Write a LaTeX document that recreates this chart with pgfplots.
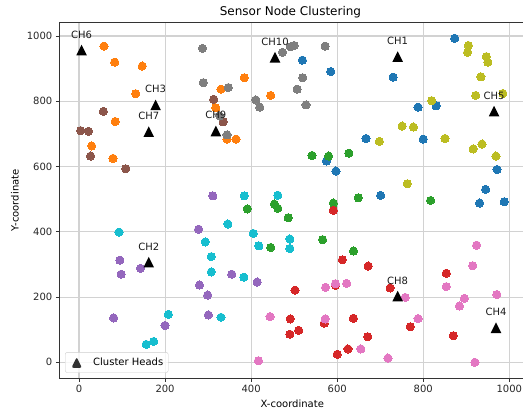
\documentclass[border=0pt]{standalone}
\usepackage{fontspec}
\setmainfont{DejaVu Sans}
\usepackage{pgfplots}
\pgfplotsset{compat=1.18}
\definecolor{cB}{HTML}{1F77B4}
\definecolor{cO}{HTML}{FF7F0E}
\definecolor{cG}{HTML}{2CA02C}
\definecolor{cR}{HTML}{D62728}
\definecolor{cP}{HTML}{9467BD}
\definecolor{cBr}{HTML}{8C564B}
\definecolor{cPk}{HTML}{E377C2}
\definecolor{cGy}{HTML}{7F7F7F}
\definecolor{cOl}{HTML}{BCBD22}
\definecolor{cC}{HTML}{17BECF}
\definecolor{gridc}{HTML}{D2D2D2}
\pgfdeclareplotmark{mtri}{%
  \pgfpathmoveto{\pgfqpoint{0pt}{\pgfplotmarksize}}%
  \pgfpathlineto{\pgfqpoint{-\pgfplotmarksize}{-\pgfplotmarksize}}%
  \pgfpathlineto{\pgfqpoint{\pgfplotmarksize}{-\pgfplotmarksize}}%
  \pgfpathclose\pgfusepathqfill}
\pgfplotsset{dot/.style={only marks, mark=*, mark size=4.1bp, color=#1, mark options={fill=#1, draw=#1, line width=0pt}, forget plot},
  chleg/.style={legend image code/.code={\path[draw=none,fill=none] (0bp,0bp) -- (23bp,0bp); \fill[black,draw=none] (8.5bp,0bp) +(0bp,5.3bp) -- +(-5.3bp,-5.3bp) -- +(5.3bp,-5.3bp) -- cycle;}}}
\begin{document}
\begin{tikzpicture}
\begin{axis}[
  scale only axis, width=465.9bp, height=355.8bp,
  xmin=-45.8, xmax=1036.9, ymin=-49.0, ymax=1041.4,
  xtick={0,200,...,1000}, ytick={0,200,...,1000},
  grid=major, major grid style={line width=1.1bp, color=gridc},
  axis line style={line width=0.8bp, black!80},
  tick align=outside, tick pos=left, major tick length=3.5bp,
  tick style={line width=0.8bp, black!80},
  ticklabel style={font=\fontsize{10bp}{12bp}\selectfont, text=black!85},
  /pgf/number format/assume math mode=true,
  /pgf/number format/1000 sep={},
  title={Sensor Node Clustering},
  every axis title/.style={at={(axis description cs:0.4962,1)}, anchor=base, yshift=7bp, inner sep=0pt, font=\fontsize{12bp}{14bp}\selectfont},
  xlabel={X-coordinate}, ylabel={Y-coordinate},
  every axis x label/.style={at={(axis description cs:0.5,-0.0722)}, anchor=center, font=\fontsize{10bp}{12bp}\selectfont},
  every axis y label/.style={at={(axis description cs:-0.0951,0.5)}, rotate=90, anchor=center, font=\fontsize{10bp}{12bp}\selectfont},
  legend style={at={(0,0)}, anchor=south west, xshift=5.7bp, yshift=5.6bp, draw=black!20, rounded corners=2bp, fill=white, fill opacity=0.8, text opacity=1, inner xsep=3bp, inner ysep=3.5bp, font=\fontsize{10bp}{12bp}\selectfont, nodes={inner sep=2bp}, cells={anchor=west}},
]
% blue
\addplot[dot=cB] table {
x y
873 993
519 926
585 891
730 874
788 782
830 786
667 686
800 684
575 617
597 586
971.5 591
701 511.5
945 530
931 488
988 492
};
% orange
\addplot[dot=cO] table {
x y
58 969
83 920
147 908
132 823
84 738
29.5 663
79 625
330 837
318 780
344 684
365 684
384 872
445.5 818
};
% green
\addplot[dot=cG] table {
x y
541.5 634
580 632
627 641
649 504
454 485
462 472
591 488
391 470
486 443
445.5 352
566 376
638 341
817 496
};
% red
\addplot[dot=cR] table {
x y
591 466
612 314
672 295
502 221
596 236
491 133
570 120
637.5 135
510.5 98
490 86
671 78.5
625 41
600 24.5
853.5 273
723 228
770 109
870 81.5
};
% purple
\addplot[dot=cP] table {
x y
311 510
278 408
95 313
98 270
143 288
355 270
280 237
299 206
80.5 136
300.5 145
200 113
414 246
};
% brown
\addplot[dot=cBr] table {
x y
313 806
335 737
56.5 769
4 710
22 708
27 632
108.5 593
};
% pink
\addplot[dot=cPk] table {
x y
573 230
596 241
622 242
444 140
572 133
655 41
417 5
924 359
915 296
758 199
853.5 232
895.5 196
884 172.5
971 208
788 134
718 13
920 0
};
% gray
\addplot[dot=cGy] table {
x y
287 962
289 857
347 842
344 697
327 755
473 950
491 967
500 971
572 969
520 872
507 837
411 804
420 782
527.5 789
};
% olive
\addplot[dot=cOl] table {
x y
905 971
903 950
946.5 937
950 920
934 875
922 818
985 824
819.5 802
751 724
777 721
698 677
850.5 686
936.5 669
916 654
969 632
763 547
};
% cyan
\addplot[dot=cC] table {
x y
93 399
346 424
293.5 369
307.5 324
307.5 277
207.5 147
330 138
156 55
173.5 64
384 510
462 512
405 395
418 357
490 378
490 349
383 261
};
% cluster heads
\addplot[only marks, mark=mtri, mark size=5.3bp, black, chleg,
  nodes near coords, point meta=explicit symbolic,
  every node near coord/.append style={anchor=base, inner sep=0pt, yshift=12bp, font=\fontsize{10bp}{12bp}\selectfont, text=black!90}]
  table[meta=l] {
x y l
740.5 937 CH1
162 307 CH2
178 789 CH3
969 106 CH4
964.5 770 CH5
6 957 CH6
162 707 CH7
740.5 203 CH8
318 709 CH9
455.5 935 CH10
};
\addlegendentry{Cluster Heads}
\end{axis}
\pgfresetboundingbox
\useasboundingbox (-59.3bp,-33.7bp) rectangle (463.7bp,378.3bp);
\end{tikzpicture}
\end{document}
